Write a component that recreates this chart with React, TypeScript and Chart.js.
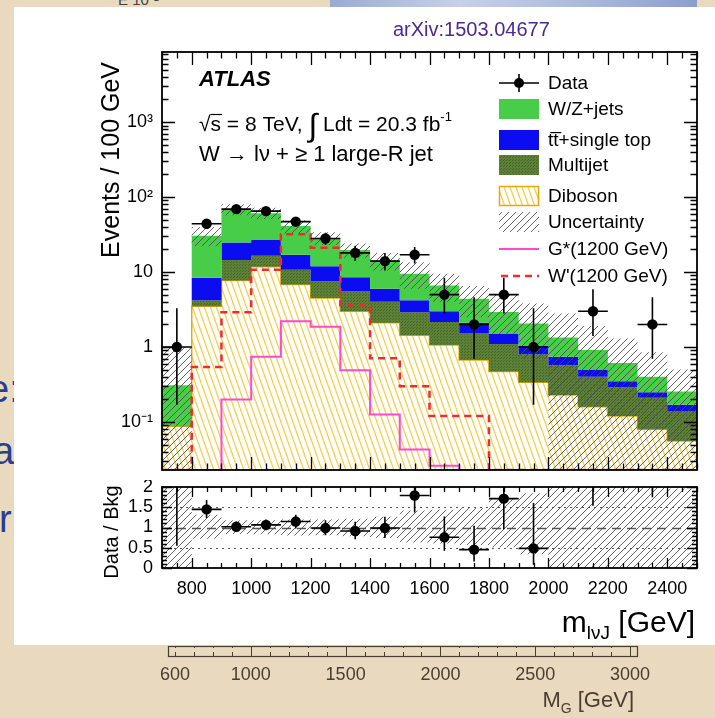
import { useEffect, useRef } from 'react';
import { Chart, registerables } from 'chart.js';

Chart.register(...registerables);

const FONT = '"Liberation Sans", Arial, Helvetica, sans-serif';

// m_lvJ histogram binning (100 GeV bins)
const binEdges = [700, 800, 900, 1000, 1100, 1200, 1300, 1400, 1500, 1600, 1700, 1800, 1900, 2000, 2100, 2200, 2300, 2400, 2500];

// expected events per bin, per background process
const diboson = [0.088, 3.5, 7.7, 11.8, 6.8, 4.5, 3.0, 2.1, 1.44, 1.06, 0.67, 0.47, 0.34, 0.23, 0.16, 0.12, 0.08, 0.056];
const multijet = [0, 0.7, 6.8, 4.7, 3.9, 3.0, 2.5, 1.9, 1.46, 1.1, 0.85, 0.63, 0.46, 0.34, 0.24, 0.17, 0.13, 0.084];
const topQuark = [0, 4.2, 10.3, 10.2, 6.3, 4.4, 3.0, 2.0, 1.3, 0.84, 0.58, 0.42, 0.23, 0.17, 0.1, 0.06, 0.04, 0.03];
const wzJets = [0.22, 22, 43, 34.3, 24, 16.5, 11.2, 8.2, 5.3, 3.6, 2.3, 1.4, 1.03, 0.6, 0.41, 0.26, 0.15, 0.085];

// total background uncertainty band (lower / upper edge)
const bkgLow = [0, 22, 57, 51, 33, 23, 15.5, 10.5, 6, 4, 2.5, 1.5, 0.7, 0, 0, 0, 0, 0];
const bkgHigh = [1.0, 40, 80, 72, 49, 34, 24, 18, 13.5, 9.5, 6.5, 5, 3.8, 2.8, 1.9, 1.3, 0.85, 0.5];

// observed events and their error bar ends
const dataCounts = [1, 44, 69, 65, 47, 28, 18, 14, 17, 5, 2, 5, 1, 0, 3, 0, 2, 0];
const dataLow = [0.17, 37.5, 61, 57, 40, 23, 14, 10.5, 13, 2.8, 0.7, 2.8, 0.17, 0, 1.4, 0, 0.7, 0];
const dataHigh = [3.3, 51, 78, 73, 54, 33.5, 22.5, 18, 21.5, 8.4, 4.6, 8.4, 3.3, 0, 5.9, 0, 4.6, 0];

// signal templates, m = 1200 GeV
const gStar = [0, 0, 0.2, 0.74, 2.2, 1.86, 0.49, 0.126, 0.043, 0.026, 0, 0, 0, 0, 0, 0, 0, 0];
const wPrime = [0, 0.54, 2.9, 10.7, 32, 21, 3.6, 0.71, 0.3, 0.12, 0.12, 0, 0, 0, 0, 0, 0, 0];

const yTickValues = [0.1, 1, 10, 100, 1000];
const yTickLabels = ['10\u207B\u00B9', '1', '10', '10\u00B2', '10\u00B3'];
const xTickValues = [800, 1000, 1200, 1400, 1600, 1800, 2000, 2200, 2400];
const ratioTickValues = [0, 0.5, 1, 1.5, 2];
const ratioTickLabels = ['0', '0.5', '1', '1.5', '2'];
const slideTickValues = [600, 1000, 1500, 2000, 2500, 3000];

const legendLabels = ['Data', 'W/Z+jets', 'tt\u0305+single top', 'Multijet', 'Diboson', 'Uncertainty', 'G*(1200 GeV)', "W'(1200 GeV)"];

const X_MIN = 700;
const X_MAX = 2500;
const Y_MIN = 0.0229;
const Y_MAX = 8600;
const R_MIN = 0;
const R_MAX = 2.0;

const cumulate = (...parts: number[][]) => parts[0].map((_, i) => parts.reduce((s, p) => s + p[i], 0));
const stackDiboson = diboson;
const stackMultijet = cumulate(diboson, multijet);
const stackTop = cumulate(diboson, multijet, topQuark);
const stackTotal = cumulate(diboson, multijet, topQuark, wzJets);
const binCenters = binEdges.slice(0, -1).map((e, i) => (e + binEdges[i + 1]) / 2);

const COLORS = {
  wz: '#48cd48',
  top: '#0b0cf0',
  olive: '#5b8036',
  oliveDot: '#45652a',
  yellowLine: '#f4d04a',
  yellowEdge: '#e6a90c',
  hatch: 'rgba(75,75,75,0.85)',
  gstar: '#ff4acf',
  wprime: '#f02b2b',
};

function makePattern(ctx: CanvasRenderingContext2D, w: number, h: number, draw: (g: CanvasRenderingContext2D) => void) {
  const c = document.createElement('canvas');
  c.width = w;
  c.height = h;
  const g = c.getContext('2d')!;
  draw(g);
  return ctx.createPattern(c, 'repeat')!;
}

function diagonalLines(g: CanvasRenderingContext2D, w: number, h: number, rising: boolean, color: string, width: number) {
  g.strokeStyle = color;
  g.lineWidth = width;
  g.beginPath();
  for (const o of [-w, 0, w]) {
    if (rising) {
      g.moveTo(o, h);
      g.lineTo(o + w, 0);
    } else {
      g.moveTo(o, 0);
      g.lineTo(o + w, h);
    }
  }
  g.stroke();
}

function buildPatterns(ctx: CanvasRenderingContext2D) {
  return {
    unc: makePattern(ctx, 7, 7, (g) => diagonalLines(g, 7, 7, true, COLORS.hatch, 1)),
    yellow: makePattern(ctx, 6, 17, (g) => {
      g.fillStyle = '#ffffff';
      g.fillRect(0, 0, 6, 17);
      diagonalLines(g, 6, 17, false, COLORS.yellowLine, 1.3);
    }),
    olive: makePattern(ctx, 3, 3, (g) => {
      g.fillStyle = COLORS.olive;
      g.fillRect(0, 0, 3, 3);
      g.fillStyle = COLORS.oliveDot;
      g.fillRect(0, 0, 1, 1);
      g.fillRect(2, 1, 1, 1);
    }),
  };
}

// keep the plot frame exactly where the layout padding puts it
const noScalePadding = (s: any) => {
  s.paddingTop = 0;
  s.paddingBottom = 0;
  s.paddingLeft = 0;
  s.paddingRight = 0;
};

// ROOT-style ticks drawn on the inside of the frame
function drawFrameAndTicks(ctx: CanvasRenderingContext2D, chart: any, xMajor: number[], xMinor: number[], yMajor: number[], yMinor: number[], lens: { xM: number; xm: number; yM: number; ym: number }) {
  const { chartArea: a, scales } = chart;
  const xs = scales.x;
  const ys = scales.y;
  ctx.save();
  ctx.strokeStyle = '#000';
  ctx.lineWidth = 1.3;
  ctx.beginPath();
  const vx = (v: number, len: number) => {
    const px = Math.round(xs.getPixelForValue(v)) + 0.5;
    ctx.moveTo(px, a.bottom);
    ctx.lineTo(px, a.bottom - len);
    ctx.moveTo(px, a.top);
    ctx.lineTo(px, a.top + len);
  };
  const vy = (v: number, len: number) => {
    const py = Math.round(ys.getPixelForValue(v)) + 0.5;
    ctx.moveTo(a.left, py);
    ctx.lineTo(a.left + len, py);
    ctx.moveTo(a.right, py);
    ctx.lineTo(a.right - len, py);
  };
  xMajor.forEach((v) => vx(v, lens.xM));
  xMinor.forEach((v) => vx(v, lens.xm));
  yMajor.forEach((v) => vy(v, lens.yM));
  yMinor.forEach((v) => vy(v, lens.ym));
  ctx.stroke();
  ctx.lineWidth = 1.8;
  ctx.strokeRect(a.left, a.top, a.right - a.left, a.bottom - a.top);
  ctx.restore();
}

function minorX(step: number) {
  const out: number[] = [];
  for (let v = X_MIN; v <= X_MAX; v += step) if (!xTickValues.includes(v)) out.push(v);
  return out;
}

function minorLog() {
  const out: number[] = [];
  for (let d = 0.01; d < Y_MAX; d *= 10) {
    for (let k = 2; k <= 9; k++) {
      const v = d * k;
      if (v > Y_MIN && v < Y_MAX) out.push(v);
    }
  }
  return out;
}

type Piece = { t: string; size: number; dy?: number; weight?: string; style?: string };
function drawPieces(ctx: CanvasRenderingContext2D, x: number, y: number, pieces: Piece[], color = '#000', measureOnly = false) {
  let cx = x;
  for (const p of pieces) {
    ctx.font = `${p.style || 'normal'} ${p.weight || 'normal'} ${p.size}px ${FONT}`;
    if (!measureOnly) {
      ctx.fillStyle = color;
      ctx.fillText(p.t, cx, y + (p.dy || 0));
    }
    cx += ctx.measureText(p.t).width;
  }
  return cx - x;
}

// rotated axis title
function drawVerticalTitle(ctx: CanvasRenderingContext2D, text: string, x: number, y: number, size: number, align: CanvasTextAlign) {
  ctx.save();
  ctx.translate(x, y);
  ctx.rotate(-Math.PI / 2);
  ctx.font = `${size}px ${FONT}`;
  ctx.fillStyle = '#000';
  ctx.textAlign = align;
  ctx.textBaseline = 'middle';
  ctx.fillText(text, 0, 0);
  ctx.restore();
}

function buildMain(canvas: HTMLCanvasElement) {
  const ctx = canvas.getContext('2d')!;
  const pat = buildPatterns(ctx);
  const step = (vals: number[]) => binEdges.map((x, i) => ({ x, y: Math.max(vals[Math.min(i, vals.length - 1)], Y_MIN) }));
  const hist = (vals: number[], extra: any) => ({
    data: step(vals),
    stepped: 'before',
    pointRadius: 0,
    borderWidth: 0,
    borderColor: 'transparent',
    fill: false,
    ...extra,
  });
  const points = binCenters.map((x, i) => ({ x, y: dataCounts[i] })).filter((p) => p.y > 0);

  const decor = {
    id: 'mainDecor',
    afterDatasetsDraw(chart: any) {
      const { ctx: c, chartArea: a, scales } = chart;
      c.save();
      c.beginPath();
      c.rect(a.left, a.top, a.right - a.left, a.bottom - a.top);
      c.clip();
      c.strokeStyle = '#000';
      c.lineWidth = 1.6;
      c.beginPath();
      dataCounts.forEach((n, i) => {
        if (n <= 0) return;
        const py = scales.y.getPixelForValue(n);
        const px = scales.x.getPixelForValue(binCenters[i]);
        c.moveTo(scales.x.getPixelForValue(binEdges[i]), py);
        c.lineTo(scales.x.getPixelForValue(binEdges[i + 1]), py);
        c.moveTo(px, scales.y.getPixelForValue(dataLow[i]));
        c.lineTo(px, scales.y.getPixelForValue(dataHigh[i]));
      });
      c.stroke();
      c.restore();
    },
    afterDraw(chart: any) {
      const c: CanvasRenderingContext2D = chart.ctx;
      drawFrameAndTicks(c, chart, xTickValues, minorX(50), yTickValues, minorLog(), { xM: 13, xm: 6.5, yM: 13, ym: 6.5 });
      drawVerticalTitle(c, 'Events / 100 GeV', 112, 62, 25, 'right');

      // labels in the upper left
      c.save();
      c.textBaseline = 'alphabetic';
      c.textAlign = 'left';
      drawPieces(c, 199, 86, [{ t: 'ATLAS', size: 22, weight: 'bold', style: 'italic' }]);
      const w1 = drawPieces(c, 199, 131, [{ t: '\u221As', size: 21 }], '#000', true);
      drawPieces(c, 199, 131, [
        { t: '\u221As = 8 TeV, ', size: 21 },
        { t: '\u222B', size: 32, dy: 5 },
        { t: ' Ldt = 20.3 fb', size: 21 },
        { t: '-1', size: 13, dy: -10 },
      ]);
      c.strokeStyle = '#000';
      c.lineWidth = 1.2;
      c.beginPath();
      c.moveTo(199 + w1 * 0.52, 114.5);
      c.lineTo(199 + w1 + 1, 114.5);
      c.stroke();
      drawPieces(c, 199, 161, [{ t: 'W \u2192 l\u03BD + \u2265 1 large-R jet', size: 22 }]);

      // legend
      const rows = [83, 109, 140, 165, 196, 222, 249, 276];
      const sx0 = 499;
      const sx1 = 539;
      const box = (fill: any, y: number, stroke?: string) => {
        c.fillStyle = fill;
        c.fillRect(sx0, y - 10, sx1 - sx0, 20);
        if (stroke) {
          c.strokeStyle = stroke;
          c.lineWidth = 1.5;
          c.strokeRect(sx0 + 0.5, y - 9.5, sx1 - sx0 - 1, 19);
        }
      };
      c.strokeStyle = '#000';
      c.lineWidth = 1.6;
      c.beginPath();
      c.moveTo(sx0, rows[0]);
      c.lineTo(sx1, rows[0]);
      c.moveTo(519, rows[0] - 9);
      c.lineTo(519, rows[0] + 9);
      c.stroke();
      c.fillStyle = '#000';
      c.beginPath();
      c.arc(519, rows[0], 5, 0, Math.PI * 2);
      c.fill();
      box(COLORS.wz, rows[1]);
      box(COLORS.top, rows[2]);
      box(pat.olive, rows[3]);
      box(pat.yellow, rows[4], COLORS.yellowEdge);
      box(pat.unc, rows[5]);
      c.lineWidth = 2;
      c.strokeStyle = COLORS.gstar;
      c.beginPath();
      c.moveTo(sx0, rows[6]);
      c.lineTo(sx1, rows[6]);
      c.stroke();
      c.lineWidth = 2.5;
      c.strokeStyle = COLORS.wprime;
      c.setLineDash([7, 5]);
      c.beginPath();
      c.moveTo(sx0 + 2, rows[7]);
      c.lineTo(sx1, rows[7]);
      c.stroke();
      c.setLineDash([]);
      c.textBaseline = 'middle';
      c.font = `19px ${FONT}`;
      c.fillStyle = '#000';
      legendLabels.forEach((t, i) => c.fillText(t, 548, rows[i] + 1));
      c.restore();
    },
  };

  return new Chart(ctx, {
    type: 'line',
    data: {
      datasets: [
        { label: 'Data', data: points, showLine: false, pointRadius: 5.2, pointBackgroundColor: '#000', pointBorderColor: '#000', pointBorderWidth: 0 },
        hist(wPrime, { label: "W'", borderColor: COLORS.wprime, borderWidth: 2.5, borderDash: [7, 5] }),
        hist(gStar, { label: 'G*', borderColor: COLORS.gstar, borderWidth: 2 }),
        hist(bkgHigh, { label: 'Uncertainty', fill: '+1', backgroundColor: pat.unc }),
        hist(bkgLow, { label: 'Uncertainty (low)' }),
        hist(stackTotal, { label: 'W/Z+jets', fill: '+1', backgroundColor: COLORS.wz }),
        hist(stackTop, { label: 'top', fill: '+1', backgroundColor: COLORS.top }),
        hist(stackMultijet, { label: 'Multijet', fill: '+1', backgroundColor: pat.olive }),
        hist(stackDiboson, { label: 'Diboson', fill: 'start', backgroundColor: pat.yellow, borderColor: COLORS.yellowEdge, borderWidth: 1.5 }),
      ] as any,
    },
    options: {
      responsive: false,
      animation: false,
      events: [],
      layout: { padding: { left: 100, top: 52, right: 18, bottom: 10 } },
      plugins: { legend: { display: false }, tooltip: { enabled: false } },
      scales: {
        x: { type: 'linear', min: X_MIN, max: X_MAX, display: false },
        y: {
          type: 'logarithmic',
          min: Y_MIN,
          max: Y_MAX,
          afterBuildTicks: (s: any) => {
            s.ticks = yTickValues.map((value) => ({ value }));
          },
          afterFit: (s: any) => {
            s.width = 62;
            noScalePadding(s);
          },
          grid: { display: false, drawTicks: false },
          border: { display: false },
          ticks: {
            callback: (_v: any, i: number) => yTickLabels[i],
            font: { family: FONT, size: 18 },
            color: '#000',
            padding: 9,
            autoSkip: false,
            maxRotation: 0,
          },
        },
      },
    } as any,
    plugins: [decor],
  });
}

function buildRatio(canvas: HTMLCanvasElement) {
  const ctx = canvas.getContext('2d')!;
  const pat = buildPatterns(ctx);
  const ratio = dataCounts.map((n, i) => n / stackTotal[i]);
  const step = (vals: number[]) => binEdges.map((x, i) => ({ x, y: vals[Math.min(i, vals.length - 1)] }));
  const bandHigh = bkgHigh.map((v, i) => v / stackTotal[i]);
  const bandLow = bkgLow.map((v, i) => v / stackTotal[i]);
  const points = binCenters.map((x, i) => ({ x, y: ratio[i] })).filter((_, i) => dataCounts[i] > 0);

  const decor = {
    id: 'ratioDecor',
    beforeDatasetsDraw(chart: any) {
      const { ctx: c, chartArea: a, scales } = chart;
      c.save();
      c.strokeStyle = '#555';
      c.lineWidth = 1;
      c.setLineDash([2, 4]);
      c.beginPath();
      [0.5, 1.5].forEach((v) => {
        const py = Math.round(scales.y.getPixelForValue(v)) + 0.5;
        c.moveTo(a.left, py);
        c.lineTo(a.right, py);
      });
      c.stroke();
      c.setLineDash([9, 6]);
      c.lineWidth = 1.3;
      c.beginPath();
      const p1 = Math.round(scales.y.getPixelForValue(1)) + 0.5;
      c.moveTo(a.left, p1);
      c.lineTo(a.right, p1);
      c.stroke();
      c.restore();
    },
    afterDatasetsDraw(chart: any) {
      const { ctx: c, chartArea: a, scales } = chart;
      c.save();
      c.beginPath();
      c.rect(a.left, a.top, a.right - a.left, a.bottom - a.top);
      c.clip();
      c.strokeStyle = '#000';
      c.lineWidth = 1.6;
      c.beginPath();
      dataCounts.forEach((n, i) => {
        if (n <= 0) return;
        const t = stackTotal[i];
        const py = scales.y.getPixelForValue(ratio[i]);
        const px = scales.x.getPixelForValue(binCenters[i]);
        c.moveTo(scales.x.getPixelForValue(binEdges[i]), py);
        c.lineTo(scales.x.getPixelForValue(binEdges[i + 1]), py);
        c.moveTo(px, scales.y.getPixelForValue(dataLow[i] / t));
        c.lineTo(px, scales.y.getPixelForValue(dataHigh[i] / t));
      });
      c.stroke();
      c.restore();
    },
    afterDraw(chart: any) {
      const c: CanvasRenderingContext2D = chart.ctx;
      const yMinor: number[] = [];
      for (let k = 1; k < 20; k++) {
        const r = k / 10;
        if (!ratioTickValues.includes(r)) yMinor.push(r);
      }
      drawFrameAndTicks(c, chart, xTickValues, minorX(50), ratioTickValues, yMinor, { xM: 10, xm: 5, yM: 10, ym: 5 });
      drawVerticalTitle(c, 'Data / Bkg', 112, 52, 20, 'center');
      // x-axis title with subscript
      c.save();
      c.textBaseline = 'alphabetic';
      const pieces: Piece[] = [
        { t: 'm', size: 30 },
        { t: 'l\u03BDJ', size: 19, dy: 7 },
        { t: ' [GeV]', size: 30 },
      ];
      const w = drawPieces(c, 0, 0, pieces, '#000', true);
      drawPieces(c, 695 - w, 152, pieces);
      c.restore();
    },
  };

  return new Chart(ctx, {
    type: 'line',
    data: {
      datasets: [
        { label: 'Data / Bkg', data: points, showLine: false, pointRadius: 5.2, pointBackgroundColor: '#000', pointBorderColor: '#000', pointBorderWidth: 0 },
        { label: 'band', data: step(bandHigh), stepped: 'before', pointRadius: 0, borderWidth: 0, borderColor: 'transparent', fill: '+1', backgroundColor: pat.unc },
        { label: 'band low', data: step(bandLow), stepped: 'before', pointRadius: 0, borderWidth: 0, borderColor: 'transparent', fill: false },
      ] as any,
    },
    options: {
      responsive: false,
      animation: false,
      events: [],
      layout: { padding: { left: 100, top: 7, right: 18, bottom: 0 } },
      plugins: { legend: { display: false }, tooltip: { enabled: false } },
      scales: {
        x: {
          type: 'linear',
          min: X_MIN,
          max: X_MAX,
          afterBuildTicks: (s: any) => {
            s.ticks = xTickValues.map((value) => ({ value }));
          },
          afterFit: (s: any) => {
            s.height = 72;
            noScalePadding(s);
          },
          grid: { display: false, drawTicks: false },
          border: { display: false },
          ticks: { callback: (v: any) => String(v), font: { family: FONT, size: 18 }, color: '#000', padding: 10, autoSkip: false, maxRotation: 0 },
        },
        y: {
          type: 'linear',
          min: R_MIN,
          max: R_MAX,
          afterBuildTicks: (s: any) => {
            s.ticks = ratioTickValues.map((value) => ({ value }));
          },
          afterFit: (s: any) => {
            s.width = 62;
            noScalePadding(s);
          },
          grid: { display: false, drawTicks: false },
          border: { display: false },
          ticks: { callback: (_v: any, i: number) => ratioTickLabels[i], font: { family: FONT, size: 18 }, color: '#000', padding: 9, autoSkip: false },
        },
      },
    } as any,
    plugins: [decor],
  });
}

// axis of the slide underneath the figure
function buildSlideAxis(canvas: HTMLCanvasElement) {
  const ctx = canvas.getContext('2d')!;
  const ink = '#4a3e31';
  const decor = {
    id: 'slideDecor',
    afterDraw(chart: any) {
      const { ctx: c, chartArea: a, scales } = chart;
      c.save();
      c.strokeStyle = ink;
      c.lineWidth = 1;
      c.beginPath();
      for (let v = 600; v <= 3000; v += 100) {
        const px = Math.round(scales.x.getPixelForValue(v)) + 0.5;
        const len = v % 500 === 0 ? 7 : 4;
        c.moveTo(px, a.bottom);
        c.lineTo(px, a.bottom - len);
        c.moveTo(px, a.top);
        c.lineTo(px, a.top + len * 0.5);
      }
      c.stroke();
      c.lineWidth = 1.2;
      c.strokeRect(a.left + 0.5, a.top + 0.5, a.right - a.left, a.bottom - a.top);
      const pieces: Piece[] = [
        { t: 'M', size: 22 },
        { t: 'G', size: 14, dy: 6 },
        { t: ' [GeV]', size: 22 },
      ];
      const w = drawPieces(c, 0, 0, pieces, ink, true);
      drawPieces(c, 634 - w, 77, pieces, ink);
      c.restore();
    },
  };
  return new Chart(ctx, {
    type: 'line',
    data: { datasets: [] },
    options: {
      responsive: false,
      animation: false,
      events: [],
      layout: { padding: { left: 168, top: 16, right: 78, bottom: 0 } },
      plugins: { legend: { display: false }, tooltip: { enabled: false } },
      scales: {
        x: {
          type: 'linear',
          min: 563,
          max: 3037,
          afterBuildTicks: (s: any) => {
            s.ticks = slideTickValues.map((value) => ({ value }));
          },
          afterFit: (s: any) => {
            s.height = 62;
            noScalePadding(s);
          },
          grid: { display: false, drawTicks: false },
          border: { display: false },
          ticks: { callback: (v: any) => String(v), font: { family: FONT, size: 18 }, color: ink, padding: 8, autoSkip: false, maxRotation: 0 },
        },
        y: { type: 'linear', min: 0, max: 1, display: false },
      },
    } as any,
    plugins: [decor],
  });
}

export default function App() {
  const mainRef = useRef<HTMLCanvasElement>(null);
  const ratioRef = useRef<HTMLCanvasElement>(null);
  const slideRef = useRef<HTMLCanvasElement>(null);

  useEffect(() => {
    const charts = [buildSlideAxis(slideRef.current!), buildMain(mainRef.current!), buildRatio(ratioRef.current!)];
    return () => charts.forEach((c) => c.destroy());
  }, []);

  const abs = (left: number, top: number, extra: any = {}) => ({ position: 'absolute' as const, left, top, ...extra });

  return (
    <div style={{ position: 'absolute', left: 0, top: 0, width: 715, height: 718, overflow: 'hidden', background: '#e9d9be', fontFamily: FONT }}>
      <div style={abs(330, 0, { width: 367, height: 9, background: 'linear-gradient(90deg, #9aaad2, #c6d1e8 35%, #aab8dc 70%, #8b9fcb)' })} />
      <div style={abs(118, -8, { fontSize: 15, lineHeight: 1, color: '#444', whiteSpace: 'nowrap' })}>{'E 10\u207B\u00B9'}</div>
      <div style={abs(-12, 370, { fontSize: 38, lineHeight: 1, color: '#263f8f' })}>e:</div>
      <div style={abs(-7, 432, { fontSize: 38, lineHeight: 1, color: '#263f8f' })}>a</div>
      <div style={abs(-1, 500, { fontSize: 38, lineHeight: 1, color: '#263f8f' })}>r</div>
      <canvas ref={slideRef} width={715} height={88} style={abs(0, 630)} />
      <div style={abs(14, 7, { width: 701, height: 638, background: '#ffffff' })} />
      <div style={abs(393, 19, { fontSize: 20, lineHeight: 1, color: '#4b2a8c', whiteSpace: 'nowrap' })}>arXiv:1503.04677</div>
      <canvas ref={mainRef} width={715} height={480} style={abs(0, 0)} />
      <canvas ref={ratioRef} width={715} height={160} style={abs(0, 480)} />
    </div>
  );
}
